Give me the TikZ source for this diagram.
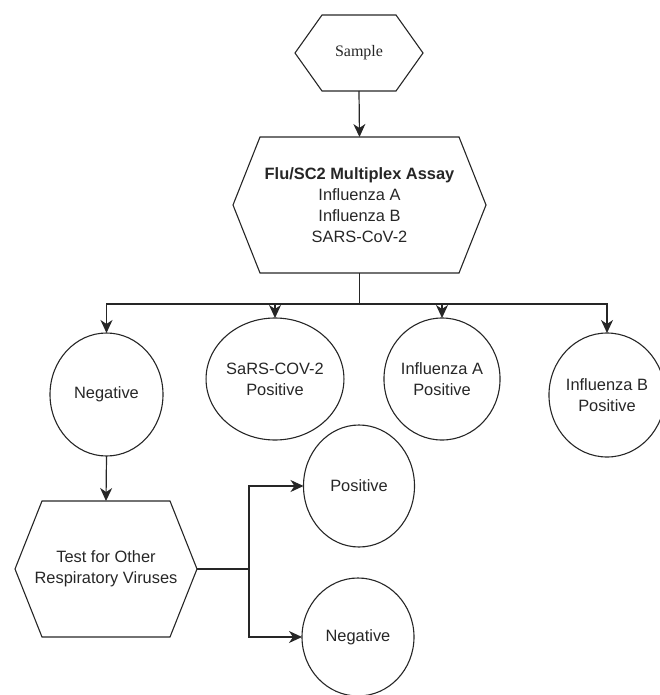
\documentclass[tikz,border=0pt]{standalone}
\usepackage{fontspec}
\setmainfont{Liberation Sans}
\newfontfamily\seriffont{Liberation Serif}
\usetikzlibrary{shapes.geometric,arrows.meta,calc}
\begin{document}
\begin{tikzpicture}[x=1pt,y=-1pt,
  every node/.style={inner sep=0pt,outer sep=0pt,text=black!85,align=center,
    font=\fontsize{16.4}{21}\selectfont},
  hexbox/.style={draw=none,rectangle},
  circnode/.style={draw=black!85,line width=1.1pt,ellipse},
  hexline/.style={draw=black!85,line width=1.1pt,line join=miter},
  conn/.style={draw=black!85,line width=1.2pt},
  arrow/.style={conn,-{Stealth[length=13pt,width=12pt,inset=4pt]}}]
\useasboundingbox (0,0) rectangle (660,695);
% hexagon holders
\node[hexbox,minimum width=128pt,minimum height=76pt] (sample) at (359,53)
  {\seriffont\fontsize{16}{20}\selectfont Sample};
\node[hexbox,minimum width=253pt,minimum height=136pt] (flu) at (359.5,205)
  {\textbf{Flu/SC2 Multiplex Assay}\\Influenza A\\Influenza B\\SARS-CoV-2};
\node[hexbox,minimum width=182pt,minimum height=136pt] (test) at (106,569)
  {Test for Other\\Respiratory Viruses};
% hexagon outlines
\foreach \n in {sample,flu,test}{
  \draw[hexline] (\n.west) -- ($(\n.north west)+(27,0)$) -- ($(\n.north east)+(-27,0)$)
    -- (\n.east) -- ($(\n.south east)+(-27,0)$) -- ($(\n.south west)+(27,0)$) -- cycle;
}
% circles
\node[circnode,minimum width=113pt,minimum height=123pt] (neg1) at (106.5,394.5) {Negative};
\node[circnode,minimum width=111pt,minimum height=122pt] (sars) at (275,379) {SaRS-COV-2\\Positive};
\node[circnode,minimum width=113pt,minimum height=122pt] (infa) at (442,379) {Influenza A\\Positive};
\node[circnode,minimum width=108pt,minimum height=124pt] (infb) at (607,395) {Influenza B\\Positive};
\node[circnode,minimum width=111pt,minimum height=122pt] (pos) at (359,486) {Positive};
\node[circnode,minimum width=112pt,minimum height=118pt] (neg2) at (358,637) {Negative};
% connectors
\draw[arrow] (sample.south) -- (flu.north);
\coordinate (bar) at ($(flu.south)+(0,31)$);
\draw[conn] (flu.south) -- (bar);
\draw[arrow] (bar) -| (neg1.north);
\draw[arrow] (bar) -| (sars.north);
\draw[arrow] (bar) -| (infa.north);
\draw[arrow] (bar) -| (infb.north);
\draw[arrow] (neg1.south) -- (test.north);
\coordinate (split) at ($(test.east)+(52,0)$);
\draw[conn] (test.east) -- (split);
\draw[arrow] (split) |- (pos.west);
\draw[arrow] (split) |- (neg2.west);
\end{tikzpicture}
\end{document}
